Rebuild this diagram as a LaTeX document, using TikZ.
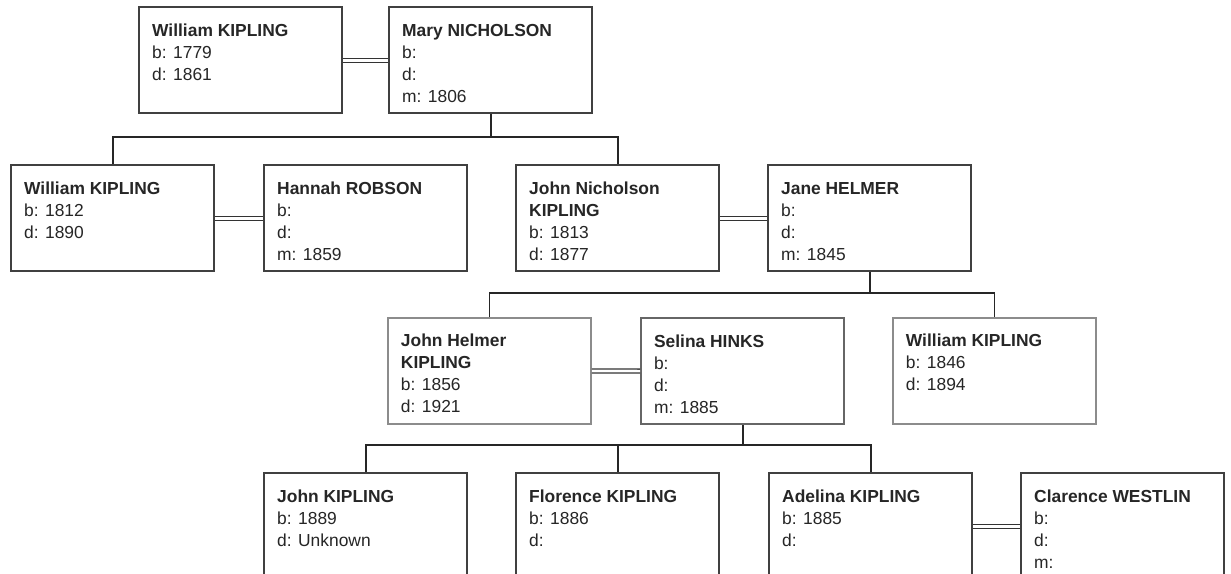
\documentclass[tikz,border=0pt]{standalone}
\usepackage{fontspec}
\setmainfont{Liberation Sans}
\begin{document}
\begin{tikzpicture}[x=1pt,y=-1pt,
  pbox/.style={draw=black!75, line width=2.4pt, inner sep=0pt, anchor=north west, text=black!85,
     font=\fontsize{17.4}{22}\selectfont},
  lbox/.style={pbox, draw=black!45, line width=1.9pt},
  mbox/.style={pbox, draw=black!60, line width=2.1pt},
  link/.style={draw=black!85, line width=1.9pt},
  marr/.style={draw=black!80, double=white, double distance=2.6pt, line width=1.3pt}]
\newcommand{\pcard}[2]{\parbox[t][106pt][t]{203pt}{\hspace*{13pt}\parbox[t]{185pt}{\rule{0pt}{29pt}\textbf{#1}\\#2}}}
\newcommand{\pcardtwo}[3]{\parbox[t][106pt][t]{203pt}{\hspace*{13pt}\parbox[t]{185pt}{\rule{0pt}{29pt}\textbf{#1}\\\textbf{#2}\\#3}}}
\useasboundingbox (0,0) rectangle (1231,573);
\clip (0,0) rectangle (1231,573);
\fill[white] (0,0) rectangle (1231,573);
% generation 1
\node[pbox] (wk1) at (138,6) {\pcard{William KIPLING}{b: 1779\\d: 1861}};
\node[pbox] (mn) at (388,6) {\pcard{Mary NICHOLSON}{b:\\d:\\m: 1806}};
% generation 2
\node[pbox] (wk2) at (10,164) {\pcard{William KIPLING}{b: 1812\\d: 1890}};
\node[pbox] (hr) at (263,164) {\pcard{Hannah ROBSON}{b:\\d:\\m: 1859}};
\node[pbox] (jnk) at (515,164) {\pcardtwo{John Nicholson}{KIPLING}{b: 1813\\d: 1877}};
\node[pbox] (jh) at (767,164) {\pcard{Jane HELMER}{b:\\d:\\m: 1845}};
% generation 3
\node[lbox] (jhk) at (387,317) {\pcardtwo{John Helmer}{KIPLING}{b: 1856\\d: 1921}};
\node[mbox] (sh) at (640,317) {\pcard{Selina HINKS}{b:\\d:\\m: 1885}};
\node[lbox] (wk3) at (892,317) {\pcard{William KIPLING}{b: 1846\\d: 1894}};
% generation 4
\node[pbox] (jk) at (263,472) {\pcard{John KIPLING}{b: 1889\\d: Unknown}};
\node[pbox] (fk) at (515,472) {\pcard{Florence KIPLING}{b: 1886\\d:}};
\node[pbox] (ak) at (768,472) {\pcard{Adelina KIPLING}{b: 1885\\d:}};
\node[pbox] (cw) at (1020,472) {\pcard{Clarence WESTLIN}{b:\\d:\\m:}};
% marriages
\draw[marr] (wk1.east) -- (mn.west);
\draw[marr] (wk2.east) -- (hr.west);
\draw[marr] (jnk.east) -- (jh.west);
\draw[marr] (jhk.east) -- (sh.west);
\draw[marr] (ak.east) -- (cw.west);
% descent buses
\coordinate (bus1) at (490,137);
\coordinate (bus2) at (869,293);
\coordinate (bus3) at (743,445);
\draw[link] (mn.south) -- (mn.south |- bus1);
\draw[link] (wk2.north) -- (wk2.north |- bus1) -- (jnk.north |- bus1) -- (jnk.north);
\draw[link] (jh.south) -- (jh.south |- bus2);
\draw[link] (jhk.north) -- (jhk.north |- bus2) -- (wk3.north |- bus2) -- (wk3.north);
\draw[link] (sh.south) -- (sh.south |- bus3);
\draw[link] (jk.north) -- (jk.north |- bus3) -- (ak.north |- bus3) -- (ak.north);
\draw[link] (fk.north) -- (fk.north |- bus3);
\end{tikzpicture}
\end{document}
